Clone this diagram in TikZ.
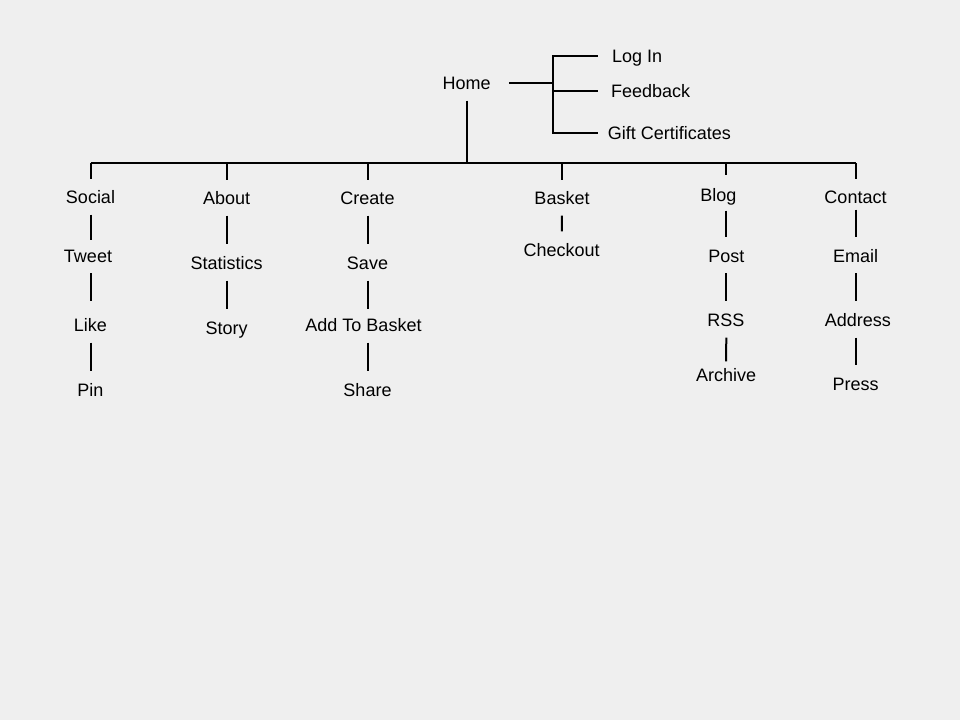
\documentclass[tikz,border=0pt]{standalone}
\usepackage{fontspec}
\setmainfont{Liberation Sans}
\definecolor{bgcol}{RGB}{239,239,239}

\begin{document}
\begin{tikzpicture}[x=1pt,y=-1pt,
  lbl/.style={font=\fontsize{18}{20}\selectfont, text height=13pt, text depth=0pt, inner xsep=4pt, inner ysep=9pt},
  wire/.style={line width=2pt},
  lnk/.style={wire, shorten <=2pt, shorten >=3pt}]
\fill[bgcol] (0,0) rectangle (960,720);
% top of the tree
\node[lbl] (Home) at (466.7,83) {Home};
\node[lbl,anchor=west] (LogIn) at (608,56) {Log In};
\node[lbl,anchor=west] (Feedback) at (607,91) {Feedback};
\node[lbl,anchor=west] (Gift) at (603.7,133) {Gift Certificates};
\coordinate (fork) at (553,83);
\coordinate (tips) at (598,0);
\coordinate (bus) at (0,163);
\draw[wire, shorten <=14pt] (Home.east |- fork) -- (fork);
\draw[wire] (fork) |- (tips |- LogIn);
\draw[wire] (fork) |- (tips |- Feedback);
\draw[wire] (fork) |- (tips |- Gift);
% first level
\node[lbl] (Social) at (90.5,197) {Social};
\node[lbl] (About) at (226.7,198) {About};
\node[lbl] (Create) at (367.5,198) {Create};
\node[lbl] (Basket) at (562,198) {Basket};
\node[lbl] (Blog) at (718.3,195) {Blog};
\node[lbl] (Contact) at (855.5,197) {Contact};
\node[lbl] (Post) at (726.3,255.5) {Post};
\draw[lnk, shorten >=0pt] (Home) -- (Home |- bus);
\draw[wire] (Social |- bus) -- (Contact |- bus);
\draw[wire, shorten >=2pt] (Social |- bus) -- (Social);
\draw[wire, shorten >=2pt] (About |- bus) -- (About);
\draw[wire, shorten >=2pt] (Create |- bus) -- (Create);
\draw[wire, shorten >=2pt] (Basket |- bus) -- (Basket);
\draw[wire, shorten >=4pt] (Post |- bus) -- (Post |- Blog.north);
\draw[wire, shorten >=2pt] (Contact |- bus) -- (Contact);
% Social
\node[lbl] (Tweet) at (88,255.5) {Tweet};
\node[lbl] (Like) at (90.5,325) {Like};
\node[lbl] (Pin) at (90.5,390) {Pin};
\draw[lnk, shorten >=0pt] (Social) -- (Social |- Tweet.north);
\draw[lnk, shorten >=8pt] (Social |- Tweet.south) -- (Like);
\draw[lnk] (Like) -- (Pin);
% About
\node[lbl] (Statistics) at (226.7,263) {Statistics};
\node[lbl] (Story) at (226.7,328) {Story};
\draw[lnk] (About) -- (Statistics);
\draw[lnk] (Statistics) -- (Story);
% Create
\node[lbl] (Save) at (367.5,263) {Save};
\node[lbl] (AddBasket) at (363.5,325) {Add To Basket};
\node[lbl] (Share) at (367.5,390) {Share};
\draw[lnk] (Create) -- (Save);
\draw[lnk, shorten >=0pt] (Save) -- (Save |- AddBasket.north);
\draw[lnk] (Save |- AddBasket.south) -- (Share);
% Basket
\node[lbl] (Checkout) at (561.7,250) {Checkout};
\draw[lnk] (Basket) -- (Checkout);
% Blog
\node[lbl] (RSS) at (725.8,320) {RSS};
\node[lbl] (Archive) at (726,375) {Archive};
\draw[lnk, shorten <=0pt] (Post |- Blog.south) -- (Post);
\draw[lnk] (Post) -- (Post |- RSS.north);
\draw[lnk, shorten >=-2pt] (Post |- RSS.south) -- (Archive);
% Contact
\node[lbl] (Email) at (855.5,255.5) {Email};
\node[lbl] (Address) at (857.8,320) {Address};
\node[lbl] (Press) at (855.5,384) {Press};
\draw[lnk, shorten <=-3pt] (Contact) -- (Email);
\draw[lnk] (Email) -- (Email |- Address.north);
\draw[lnk] (Email |- Address.south) -- (Press);
\end{tikzpicture}
\end{document}
